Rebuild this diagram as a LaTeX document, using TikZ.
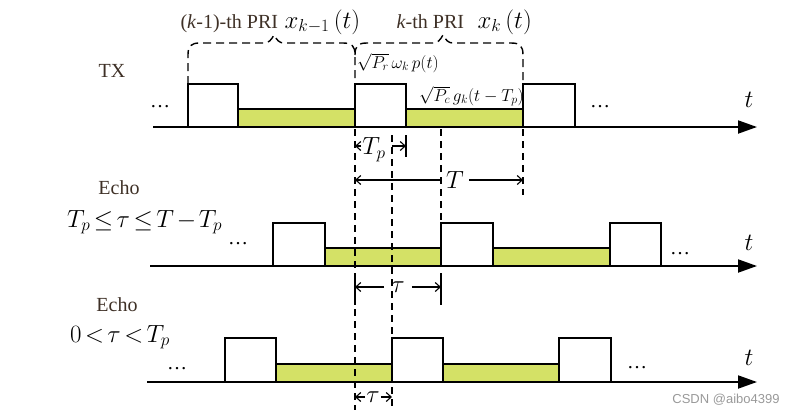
\documentclass[tikz,border=0pt]{standalone}
\usepackage{fontspec}
\setmainfont{Liberation Serif}
\newfontfamily\markfont{Liberation Sans}
\usetikzlibrary{arrows.meta}
\definecolor{tailgreen}{RGB}{212,225,102}
\definecolor{labelbrown}{RGB}{62,48,38}
\tikzset{
  pulse/.style={draw,fill=white,line width=1.9pt},
  tail/.style={draw,fill=tailgreen,line width=1.9pt},
  timeaxis/.style={line width=1.9pt,-{Triangle[length=19pt,width=13pt]}},
  guide/.style={line width=1.2pt,dash pattern=on 7pt off 5pt},
  brace/.style={line width=1.4pt,dash pattern=on 8pt off 5pt},
  dimarrow/.style={line width=1.1pt,-{Straight Barb[length=5pt,width=9pt]}},
  dimtick/.style={line width=1.1pt},
  txt/.style={text=labelbrown,font=\fontsize{20}{24}\selectfont},
  eqn/.style={font=\fontsize{24}{28}\selectfont},
  eqnbig/.style={font=\fontsize{27}{30}\selectfont},
  annot/.style={font=\fontsize{16.5}{20}\selectfont},
}
\newcommand{\tightrel}{\thickmuskip=2.5mu\medmuskip=2mu}
\begin{document}
\begin{tikzpicture}[x=1pt,y=-1pt,line join=miter]
  \useasboundingbox (0,0) rectangle (796,416);

  \draw[tail] (238,127) rectangle (355,109);
  \draw[tail] (406,127) rectangle (523,109);
  \draw[pulse] (188,127) rectangle (238,84);
  \draw[pulse] (355,127) rectangle (406,84);
  \draw[pulse] (523,127) rectangle (575,84);
  \draw[timeaxis] (153,127) -- (757,127);

  \draw[tail] (325,266) rectangle (441,248);
  \draw[tail] (493,266) rectangle (610,248);
  \draw[pulse] (273,266) rectangle (325,223);
  \draw[pulse] (441,266) rectangle (493,223);
  \draw[pulse] (610,266) rectangle (661,223);
  \draw[timeaxis] (150,266) -- (757,266);

  \draw[tail] (276,382) rectangle (392,364);
  \draw[tail] (443,382) rectangle (559,364);
  \draw[pulse] (225,382) rectangle (276,338);
  \draw[pulse] (392,382) rectangle (443,338);
  \draw[pulse] (559,382) rectangle (611,338);
  \draw[timeaxis] (147,382) -- (757,382);

  \draw[guide] (355,129) -- (355,410);
  \draw[guide] (392,135) -- (392,410);
  \draw[guide] (441,129) -- (441,223);
  \draw[guide] (523,129) -- (523,195);

  \draw[brace] (188,84) -- (188,55) .. controls (188,46) and (191,43) .. (200,43)
    -- (264,43) .. controls (269,43) and (271,40) .. (274,35)
    .. controls (277,40) and (279,43) .. (284,43)
    -- (343,43) .. controls (352,43) and (355,46) .. (355,55) -- (355,84);
  \draw[brace] (355,55) .. controls (355,46) and (358,43) .. (367,43)
    -- (433,43) .. controls (438,43) and (440,40) .. (443,35)
    .. controls (446,40) and (448,43) .. (453,43)
    -- (511,43) .. controls (520,43) and (523,46) .. (523,55) -- (523,84);

  \node[txt,anchor=base west] (prevpri) at (177,28) {(\textit{k}-1)-th PRI};
  \node[eqnbig,anchor=base west] (prevx) at (281,28) {$x_{k-1}\,(t)$};
  \node[txt,anchor=base west] (curpri) at (393,28) {\textit{k}-th PRI};
  \node[eqnbig,anchor=base west] (curx) at (474,28) {$x_k\,(t)$};
  \node[annot,anchor=base west,inner sep=0pt] (probe) at (357,68) {$\sqrt{P_r}\,\omega_k\,p(t)$};
  \node[annot,anchor=base west,inner sep=0pt] (comm) at (419,101) {$\sqrt{P_c}\,g_k(t-T_p)$};

  \node[txt] (tx) at (112,71) {TX};
  \node[txt] (echoA) at (119,188) {Echo};
  \node[eqn,anchor=base west,inner sep=0pt] (condA) at (67,227) {$\tightrel T_p\le\tau\le T-T_p$};
  \node[txt] (echoB) at (117,305) {Echo};
  \node[eqn,anchor=base west,inner sep=0pt] (condB) at (70,342) {$\tightrel 0<\tau<T_p$};

  \node[txt,text=black] (dotsA) at (160,107) {\dots};
  \node[txt,text=black] (dotsB) at (600,107) {\dots};
  \node[txt,text=black] (dotsC) at (238,244) {\dots};
  \node[txt,text=black] (dotsD) at (680,254) {\dots};
  \node[txt,text=black] (dotsE) at (177,369) {\dots};
  \node[txt,text=black] (dotsF) at (637,368) {\dots};

  \node[eqn] (tA) at (749,100) {$t$};
  \node[eqn] (tB) at (749,243) {$t$};
  \node[eqn] (tC) at (749,358) {$t$};

  \coordinate (tpL) at (355,146);
  \coordinate (tpR) at (406,146);
  \coordinate (TL) at (355,180);
  \coordinate (TR) at (523,180);
  \coordinate (tauL) at (355,287);
  \coordinate (tauR) at (441,287);
  \coordinate (tausL) at (355,397);
  \coordinate (tausR) at (392,397);

  \draw[dimtick] (406,135) -- (406,157);
  \draw[dimtick] (355,273) -- (355,305);
  \draw[dimtick] (441,273) -- (441,305);

  \node[eqn,inner sep=1pt] (Tp) at (374,150) {$T_p$};
  \draw[dimarrow] (tpL -| Tp.west) -- (tpL);
  \draw[dimarrow] (392,146) -- (tpR);
  \node[eqn,inner sep=5pt] (Tlab) at (455,180) {$T$};
  \draw[dimarrow] (Tlab.west |- TL) -- (TL);
  \draw[dimarrow] (Tlab.east |- TR) -- (TR);
  \node[eqn,inner sep=7pt] (tau) at (398,287) {$\tau$};
  \draw[dimarrow] (tau.west |- tauL) -- (tauL);
  \draw[dimarrow] (tau.east |- tauR) -- (tauR);
  \node[eqn,inner sep=1pt] (taus) at (373,397) {$\tau$};
  \draw[dimarrow] (taus.west |- tausL) -- (tausL);
  \draw[dimarrow] (taus.east |- tausR) -- (tausR);

  \node[text=black!40,font=\markfont\fontsize{13}{15}\selectfont] (mark) at (726,400) {CSDN @aibo4399};
\end{tikzpicture}
\end{document}
